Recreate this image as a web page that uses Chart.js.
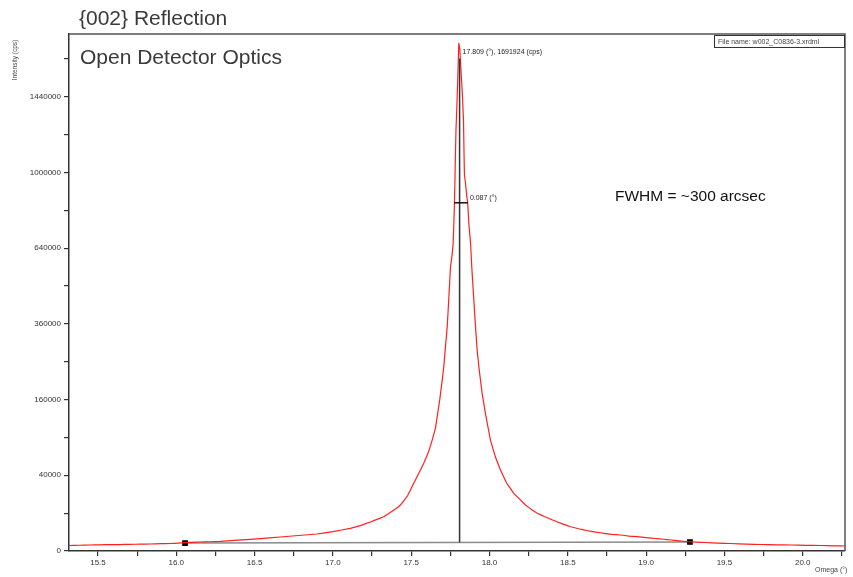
<!DOCTYPE html>
<html>
<head>
<meta charset="utf-8">
<script src="https://cdn.jsdelivr.net/npm/chart.js@4.4.1/dist/chart.umd.min.js"></script>
<style>
html,body{margin:0;padding:0;background:#fff;}
#wrap{position:relative;width:853px;height:577px;}
</style>
</head>
<body>
<div id="wrap"><canvas id="c" width="853" height="577"></canvas></div>
<script>
// ---- data ----
const omega = [15.315,15.38,15.449,15.51,15.577,15.64,15.705,15.77,15.832,15.90,15.960,16.01,16.056,16.10,16.152,16.22,16.280,16.37,16.472,16.56,16.664,16.78,16.898,17.00,17.111,17.18,17.239,17.324,17.399,17.431,17.476,17.516,17.546,17.580,17.610,17.634,17.655,17.666,17.682,17.698,17.708,17.719,17.730,17.741,17.751,17.761,17.768,17.773,17.776,17.780,17.783,17.786,17.793,17.799,17.804,17.810,17.818,17.827,17.834,17.837,17.840,17.847,17.852,17.861,17.869,17.879,17.888,17.900,17.910,17.921,17.936,17.953,17.974,18.006,18.038,18.070,18.109,18.155,18.230,18.27,18.305,18.35,18.403,18.46,18.518,18.57,18.620,18.68,18.731,18.78,18.838,18.89,18.944,19.00,19.061,19.11,19.157,19.21,19.264,19.32,19.381,19.46,19.541,19.64,19.733,19.83,19.924,20.02,20.116,20.20,20.276];
const intensity = [211,232,251,258,294,288,310,330,341,372,392,440,490,530,565,600,640,780,954,1120,1366,1680,2014,2600,3591,4600,5861,8199,12294,14747,21082,31942,41320,53600,68306,85867,105434,125700,158900,203800,236700,292900,350600,453200,563300,610600,659800,763500,842500,985300,1120600,1235200,1417600,1612400,1798500,1763300,1612400,1449100,1294600,1120600,985300,943800,898200,842500,740600,659800,550300,439100,355900,281600,223300,173300,132100,85867,61580,45720,32230,23200,14747,11900,9905,8300,6697,5250,4115,3450,2929,2480,2183,1950,1784,1560,1425,1250,1089,960,843,720,603,550,504,440,392,330,294,268,251,225,211,190,174];
const baselineX = [16.056, 19.28];
const baselineY = [446, 565];
const peakOmega = 17.809;
const peakCounts = 1691924;
const fwhmX = [17.775, 17.862];
const yTickMajor = [0, 40000, 160000, 360000, 640000, 1000000, 1440000];
const yTickMinor = [10000, 90000, 250000, 490000, 810000, 1210000, 1690000];
const xTicks = [15.5,15.75,16.0,16.25,16.5,16.75,17.0,17.25,17.5,17.75,18.0,18.25,18.5,18.75,19.0,19.25,19.5,19.75,20.0,20.25];

// ---- square-root value scale ----
class SqrtScale extends Chart.LinearScale {
  configure() {
    super.configure();
    this._sqMin = Math.sqrt(Math.max(0, this.min));
    this._sqRange = Math.sqrt(this.max) - this._sqMin;
  }
  getPixelForValue(value) {
    if (value === null || value === undefined || isNaN(value)) return NaN;
    return this.getPixelForDecimal((Math.sqrt(Math.max(0, value)) - this._sqMin) / this._sqRange);
  }
  getValueForPixel(pixel) {
    const s = this._sqMin + this.getDecimalForPixel(pixel) * this._sqRange;
    return s * s;
  }
}
SqrtScale.id = 'sqrt';
SqrtScale.defaults = Chart.LinearScale.defaults;
Chart.register(SqrtScale);

const FONT = '"Liberation Sans", Arial, sans-serif';
const curve = omega.map((x, i) => ({x, y: intensity[i]}));
const base = baselineX.map((x, i) => ({x, y: baselineY[i]}));
const peakBase = baselineY[0] + (baselineY[1]-baselineY[0])*(peakOmega-baselineX[0])/(baselineX[1]-baselineX[0]);

const decor = {
  id: 'decor',
  afterDraw(chart) {
    const ctx = chart.ctx, a = chart.chartArea;
    const xs = chart.scales.x, ys = chart.scales.y;
    ctx.save();
    // frame
    ctx.strokeStyle = '#555';
    ctx.lineWidth = 1.5;
    ctx.beginPath();
    ctx.moveTo(a.left, a.top); ctx.lineTo(a.right, a.top); ctx.lineTo(a.right, a.bottom);
    ctx.stroke();
    // titles
    ctx.fillStyle = '#3a3a3a';
    ctx.textBaseline = 'alphabetic';
    ctx.textAlign = 'left';
    ctx.font = '21px ' + FONT;
    ctx.fillText('{002} Reflection', 79, 25);
    ctx.fillText('Open Detector Optics', 80, 64);
    ctx.fillStyle = '#111';
    ctx.font = '15.5px ' + FONT;
    ctx.fillText('FWHM = ~300 arcsec', 615, 201);
    // file name box
    ctx.fillStyle = '#fff';
    ctx.strokeStyle = '#333';
    ctx.lineWidth = 1;
    ctx.fillRect(714.5, 35.5, 130, 12);
    ctx.strokeRect(714.5, 35.5, 130, 12);
    ctx.fillStyle = '#444';
    ctx.font = '7px ' + FONT;
    ctx.fillText('File name: w002_C0836-3.xrdml', 718, 44);
    // annotations
    ctx.fillStyle = '#222';
    ctx.font = '7px ' + FONT;
    ctx.textBaseline = 'middle';
    ctx.fillText('17.809 (\u00b0), 1691924 (cps)', xs.getPixelForValue(peakOmega) + 3, 52);
    ctx.fillText('0.087 (\u00b0)', xs.getPixelForValue(fwhmX[1]) + 2, ys.getPixelForValue(peakCounts/2) - 5);
    // axis titles
    ctx.fillStyle = '#444';
    ctx.font = '7px ' + FONT;
    ctx.textBaseline = 'alphabetic';
    ctx.fillText('Omega (\u00b0)', 815, 572);
    ctx.translate(17, 60);
    ctx.rotate(-Math.PI/2);
    ctx.textAlign = 'center';
    ctx.font = '6.5px ' + FONT;
    ctx.fillText('Intensity (cps)', 0, 0);
    ctx.restore();
  }
};

new Chart(document.getElementById('c'), {
  type: 'line',
  data: {
    datasets: [
      {
        data: base, borderColor: '#8a8a8a', borderWidth: 1.5,
        pointStyle: 'rect', pointRadius: 3, pointBackgroundColor: '#000', pointBorderColor: '#000', order: 3
      },
      {
        data: curve, borderColor: 'rgba(255,20,20,0.95)', borderWidth: 1.2, pointRadius: 0, tension: 0.02, order: 2
      },
      {
        data: [{x: peakOmega, y: peakBase}, {x: peakOmega, y: peakCounts}],
        borderColor: '#333', borderWidth: 1.5, pointRadius: 0, order: 1
      },
      {
        data: [{x: fwhmX[0], y: peakCounts/2}, {x: fwhmX[1], y: peakCounts/2}],
        borderColor: '#111', borderWidth: 1.5, pointRadius: 0, order: 0
      }
    ]
  },
  options: {
    responsive: false,
    animation: false,
    events: [],
    layout: {padding: {top: 34, right: 8, left: 0, bottom: 0}},
    plugins: {legend: {display: false}, title: {display: false}, tooltip: {enabled: false}},
    scales: {
      x: {
        type: 'linear', min: 15.315, max: 20.27, bounds: 'data',
        afterBuildTicks: s => { s.ticks = xTicks.map(v => ({value: v})); },
        afterFit: s => { s.height = 26; },
        border: {display: true, color: '#333', width: 1.5},
        grid: {display: true, drawOnChartArea: false, drawTicks: true, tickLength: 5, color: '#333', lineWidth: 1.2},
        ticks: {
          autoSkip: false, maxRotation: 0, padding: 2, color: '#333',
          font: {family: FONT, size: 8},
          callback: v => (Math.round(v*4) % 2 === 0) ? v.toFixed(1) : ''
        }
      },
      y: {
        type: 'sqrt', min: 0, max: 1865000, bounds: 'data',
        afterBuildTicks: s => { s.ticks = yTickMajor.concat(yTickMinor).sort((a,b)=>a-b).map(v => ({value: v})); },
        afterFit: s => { s.width = 69; },
        border: {display: true, color: '#333', width: 1.5},
        grid: {display: true, drawOnChartArea: false, drawTicks: true, tickLength: 5, color: '#333', lineWidth: 1.2},
        ticks: {
          autoSkip: false, padding: 3, color: '#333',
          font: {family: FONT, size: 8},
          callback: v => yTickMajor.includes(v) ? String(v) : ''
        }
      }
    }
  },
  plugins: [decor]
});
</script>
</body>
</html>
